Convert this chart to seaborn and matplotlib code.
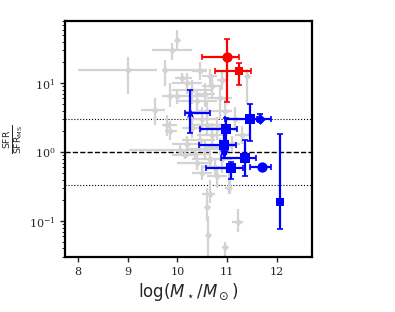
import numpy as np
import pandas as pd
import matplotlib
matplotlib.use("Agg")
import matplotlib.pyplot as plt
import seaborn as sns

# grey comparison sample: mass, mass range, SFR/SFR_MS, range
grey_x = [9.0, 10.0, 9.9, 9.76, 10.1, 10.45, 9.85, 9.56, 9.8, 9.85, 10.06, 10.15,
          10.66, 10.6, 10.62, 10.95, 11.21, 11.4, 11.03, 10.3, 10.4, 10.55, 10.7,
          10.85, 10.5, 10.6, 10.7, 10.8, 10.45, 10.55, 10.65, 10.4, 10.75, 10.85,
          10.6, 10.95, 10.3, 10.2, 10.9, 11.05, 10.5, 11.15, 11.3, 10.0, 10.2,
          10.9, 10.65, 11.1, 10.35, 10.8]
grey_xlo = [8.0, 9.98, 9.5, 9.7, 9.95, 10.3, 9.7, 9.28, 9.7, 9.75, 9.02, 9.9,
            10.5, 10.55, 10.6, 10.9, 11.1, 11.35, 10.95, 9.9, 10.0, 10.35, 10.5,
            10.6, 10.2, 10.3, 10.4, 10.6, 10.1, 10.2, 10.3, 10.0, 10.5, 10.6,
            10.4, 10.8, 10.1, 9.9, 10.7, 10.95, 10.3, 11.0, 11.15, 9.85, 9.9,
            10.8, 10.5, 10.95, 10.0, 10.6]
grey_xhi = [9.6, 10.02, 10.3, 10.6, 10.3, 10.6, 10.6, 9.76, 10.0, 10.0, 10.5, 10.4,
            10.75, 10.65, 10.65, 11.0, 11.32, 11.45, 11.1, 10.7, 10.8, 10.75, 10.9,
            11.1, 10.8, 10.9, 11.0, 11.05, 10.75, 10.9, 10.95, 10.7, 11.0, 11.1,
            10.8, 11.1, 10.5, 10.5, 11.1, 11.15, 10.7, 11.3, 11.45, 10.15, 10.5,
            11.0, 10.8, 11.25, 10.65, 11.0]
grey_y = [15.7, 42, 30, 15.5, 12, 15, 6.6, 4.1, 2.5, 2.0, 1.08, 0.92,
          0.25, 0.16, 0.063, 0.042, 0.098, 12.5, 0.30, 8.0, 5.5, 7.0, 9.0,
          6.0, 3.0, 2.5, 1.8, 2.2, 1.5, 1.1, 0.8, 0.7, 0.6, 1.2,
          4.0, 4.0, 2.2, 1.3, 0.8, 0.55, 0.5, 3.0, 1.8, 6.5, 10.0,
          11.0, 12.5, 1.3, 0.95, 0.45]
grey_ylo = [7.0, 30, 22, 9, 10, 11, 4.5, 2.5, 1.7, 1.5, 0.9, 0.8,
            0.18, 0.1, 0.03, 0.03, 0.07, 5, 0.25, 5, 3.5, 4.5, 6,
            3, 2, 1.8, 1.2, 1.5, 1.1, 0.8, 0.6, 0.55, 0.45, 0.9,
            2.8, 2.5, 1.6, 1.0, 0.5, 0.25, 0.4, 2.0, 1.3, 5, 7,
            8, 9, 1.0, 0.8, 0.3]
grey_yhi = [24, 60, 38, 22, 14, 20, 10, 6, 3.5, 2.8, 1.3, 1.05,
            0.4, 0.3, 0.12, 0.05, 0.15, 16, 0.5, 11, 8, 10, 12,
            9, 4.5, 3.5, 2.6, 3.2, 2.0, 1.5, 1.1, 0.9, 0.8, 1.6,
            5.5, 6, 3.0, 1.7, 1.0, 0.7, 0.65, 4.5, 2.4, 8, 14,
            15, 16, 1.7, 1.1, 0.6]

# red sources
red_x = [11.0, 11.23]
red_xlo = [10.49, 10.75]
red_xhi = [11.23, 11.48]
red_y = [24, 14.8]
red_ylo = [5.4, 9.3]
red_yhi = [43, 19.7]
red_marker = ["o", "s"]

# blue sources
blue_x = [10.26, 11.45, 11.65, 10.97, 10.93, 10.93, 11.35, 11.08, 11.69, 12.06]
blue_xlo = [10.15, 10.95, 11.45, 10.45, 10.43, 10.93, 10.87, 10.58, 11.45, 12.02]
blue_xhi = [10.65, 11.6, 11.87, 11.19, 11.18, 10.93, 11.58, 11.31, 11.87, 12.1]
blue_y = [3.69, 3.05, 3.05, 2.18, 1.28, 0.95, 0.835, 0.585, 0.605, 0.19]
blue_ylo = [1.89, 1.46, 2.69, 1.28, 0.95, 0.95, 0.457, 0.41, 0.605, 0.076]
blue_yhi = [7.86, 5.0, 3.57, 3.12, 2.18, 0.95, 1.51, 0.73, 0.605, 1.83]
blue_marker = ["*", "s", "D", "s", "s", "v", "s", "s", "o", "s"]
blue_size = [70, 55, 30, 55, 55, 40, 55, 55, 55, 30]

sns.set_style("ticks")
plt.rcParams["font.family"] = ["DejaVu Serif"]
plt.rcParams["mathtext.fontset"] = "dejavuserif"

fig, ax = plt.subplots(figsize=(3.95, 3.12), dpi=100)
fig.subplots_adjust(left=0.165, right=0.79, bottom=0.176, top=0.933)


def draw(xs, xlo, xhi, ys, ylo, yhi, color, capsize, z):
    xs = np.array(xs); ys = np.array(ys)
    xerr = [xs - np.array(xlo), np.array(xhi) - xs]
    yerr = [ys - np.array(ylo), np.array(yhi) - ys]
    ax.errorbar(xs, ys, xerr=xerr, yerr=yerr, fmt="none", ecolor=color,
                elinewidth=1.6, capsize=capsize, capthick=1.2, zorder=z)


grey = pd.DataFrame({"x": grey_x, "y": grey_y})
draw(grey_x, grey_xlo, grey_xhi, grey_y, grey_ylo, grey_yhi, "lightgrey", 0, 1)
sns.scatterplot(data=grey, x="x", y="y", color="lightgrey", marker="D", s=14,
                linewidth=0, ax=ax, zorder=2, legend=False)

draw(red_x, red_xlo, red_xhi, red_y, red_ylo, red_yhi, "red", 2.5, 3)
for x, y, m, s in zip(red_x, red_y, red_marker, [55, 30]):
    sns.scatterplot(x=[x], y=[y], color="red", marker=m, s=s, linewidth=0,
                    ax=ax, zorder=4, legend=False)

draw(blue_x, blue_xlo, blue_xhi, blue_y, blue_ylo, blue_yhi, "blue", 2.5, 5)
for x, y, m, s in zip(blue_x, blue_y, blue_marker, blue_size):
    sns.scatterplot(x=[x], y=[y], color="blue", marker=m, s=s, linewidth=0,
                    ax=ax, zorder=6, legend=False)

ax.axhline(1.0, color="black", ls="--", lw=1.0, zorder=0)
ax.axhline(3.0, color="black", ls=":", lw=0.8, zorder=0)
ax.axhline(1 / 3.0, color="black", ls=":", lw=0.8, zorder=0)

ax.set_yscale("log")
ax.set_xlim(7.75, 12.7)
ax.set_ylim(0.03, 80)
ax.set_xticks([8, 9, 10, 11, 12])
ax.tick_params(axis="both", which="major", labelsize=8, direction="out",
               length=3.5, width=1.0)
ax.tick_params(axis="y", which="minor", direction="out", length=2, width=0.7)
for sp in ax.spines.values():
    sp.set_linewidth(1.6)
    sp.set_color("black")

ax.set_xlabel(r"$\log(M_\star/M_\odot)$", fontsize=12, family="DejaVu Sans",
              math_fontfamily="dejavusans", labelpad=3)
ax.set_ylabel(r"$\frac{\rm SFR}{\rm SFR_{MS}}$", fontsize=9.5, family="DejaVu Sans",
              math_fontfamily="dejavusans", labelpad=2)

fig.savefig("out.png", dpi=100)
